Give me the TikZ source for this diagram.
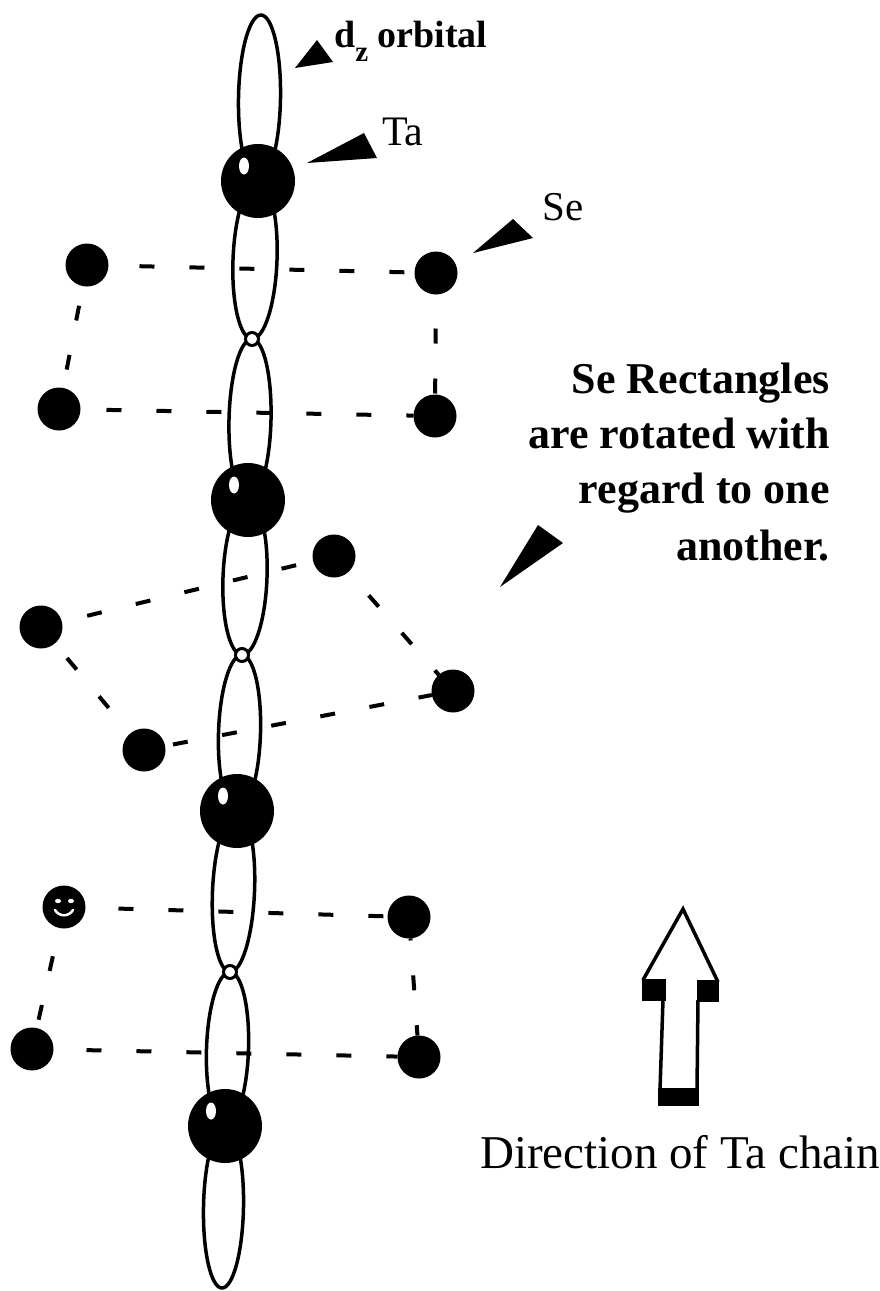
\documentclass[tikz,border=0pt]{standalone}
\usepackage{fontspec}
\setmainfont{Liberation Serif}
\usetikzlibrary{calc}
\begin{document}
\begin{tikzpicture}[x=1pt,y=-1pt,
  lobe/.style={draw, line width=3.5pt},
  ta/.style={circle, fill=black, inner sep=0pt, outer sep=0pt, minimum size=74pt},
  se/.style={circle, fill=black, inner sep=0pt, outer sep=0pt, minimum size=43pt},
  knot/.style={circle, draw, fill=white, line width=3pt, inner sep=0pt, outer sep=0pt, minimum size=13pt},
  shine/.style={fill=white},
  sedash/.style={line width=4pt, dash pattern=on 15pt off 35pt},
  wedge/.style={fill=black},
  lbl/.style={inner sep=0pt, anchor=base west},
  note/.style={inner sep=0pt, anchor=base east, font=\fontsize{44}{54}\selectfont\bfseries},
]
\useasboundingbox[fill=white] (0,0) rectangle (880,1291);

% d_z orbital lobes along the Ta chain
\draw[lobe, rotate around={-1.0:(259.5,98)}]    (259.5,98)    ellipse [x radius=21pt, y radius=83pt];
\draw[lobe, rotate around={-2.2:(255,260)}]     (255,260)     ellipse [x radius=22pt, y radius=79pt];
\draw[lobe, rotate around={-1.4:(250,419.5)}]   (250,419.5)   ellipse [x radius=21pt, y radius=80.5pt];
\draw[lobe, rotate around={-2.2:(245,577.5)}]   (245,577.5)   ellipse [x radius=22pt, y radius=77.5pt];
\draw[lobe, rotate around={-1.8:(239.5,733)}]   (239.5,733)   ellipse [x radius=21pt, y radius=78pt];
\draw[lobe, rotate around={-2.5:(233.5,891.5)}] (233.5,891.5) ellipse [x radius=21pt, y radius=80.5pt];
\draw[lobe, rotate around={-1.9:(227.5,1049)}]  (227.5,1049)  ellipse [x radius=21pt, y radius=77pt];
\draw[lobe, rotate around={-1.1:(223.5,1207)}]  (223.5,1207)  ellipse [x radius=20pt, y radius=81pt];

% Se atoms
\node[se] (a1) at (87,265) {};
\node[se] (b1) at (436,273) {};
\node[se] (c1) at (59,409) {};
\node[se] (d1) at (435,416) {};
\node[se] (t2) at (334,556) {};
\node[se] (l2) at (41,627) {};
\node[se] (r2) at (453,691) {};
\node[se] (m2) at (144,750) {};
\node[se] (e3) at (64,907) {};
\node[se] (f3) at (409,917) {};
\node[se] (g3) at (32,1049) {};
\node[se] (h3) at (419,1057) {};

% Se rectangles
\draw[sedash, dash phase=19pt] (a1) -- (b1);
\draw[sedash, dash phase=24pt] (c1) -- (d1);
\draw[sedash, dash phase=30pt] (a1) -- (c1);
\draw[sedash, dash phase=16pt] (b1) -- (d1);
\draw[sedash, dash phase=24pt] (l2) -- (t2);
\draw[sedash, dash phase=42pt] (m2) -- (r2);
\draw[sedash, dash phase=31pt] (l2) -- (m2);
\draw[sedash, dash phase=19pt] (t2) -- (r2);
\draw[sedash, dash phase=17pt] (e3) -- (f3);
\draw[sedash, dash phase=17pt] (g3) -- (h3);
\draw[sedash, dash phase=21pt] (e3) -- (g3);
\draw[sedash, dash phase=13pt] (f3) -- (h3);

% face on one Se atom
\fill[white] (58,901) ellipse [x radius=3pt, y radius=2.2pt];
\fill[white] (71,901) ellipse [x radius=3pt, y radius=2.2pt];
\draw[white, line width=2.5pt, line cap=round] (55,910) .. controls (59,917) and (69,917) .. (73,910);

% Ta atoms
\node[ta] (ta1) at (258,181) {};
\node[ta] (ta2) at (248,500) {};
\node[ta] (ta3) at (237,811) {};
\node[ta] (ta4) at (225,1126) {};
\foreach \t in {ta1,ta2,ta3,ta4}
  \fill[shine] ($(\t)+(-14,-15)$) ellipse [x radius=5pt, y radius=8.5pt];

% nodes between lobes
\node[knot] (n1) at (252,339) {};
\node[knot] (n2) at (242,655) {};
\node[knot] (n3) at (230,972) {};

% labels and pointers
\node[lbl, font=\fontsize{38}{44}\selectfont\bfseries] (dzlabel) at (334,47)
  {d\raisebox{-14pt}{\fontsize{29}{32}\selectfont\bfseries z} orbital};
\fill[wedge] (295,68) -- (317,40) -- (333,62) -- cycle;

\node[lbl, font=\fontsize{42}{50}\selectfont] (talabel) at (382,145) {Ta};
\fill[wedge] (307,163) -- (364,133) -- (377,158) -- cycle;

\node[lbl, font=\fontsize{41}{50}\selectfont] (selabel) at (542,220) {Se};
\fill[wedge] (473,253) -- (513,219) -- (533,238) -- cycle;

\node[note] (r1) at (830,393) {Se Rectangles};
\node[note] (r2t) at (830,448) {are rotated with};
\node[note] (r3) at (830,503) {regard to one};
\node[note] (r4) at (830,560) {another.};
\fill[wedge] (500,587) -- (538,525) -- (563,543) -- cycle;

% chain direction arrow
\draw[line width=3.5pt, line join=miter] (660,1090) -- (663,1000)
  (643,980) -- (683,909) -- (718,982) (698,1000) -- (697,1090);
\fill (642,979) rectangle (666,1001);
\fill (697,980) rectangle (719,1002);
\fill (658,1088) rectangle (699,1106);
\node[lbl, font=\fontsize{47}{56}\selectfont] (dirlabel) at (480,1168) {Direction of Ta chain};
\end{tikzpicture}
\end{document}
